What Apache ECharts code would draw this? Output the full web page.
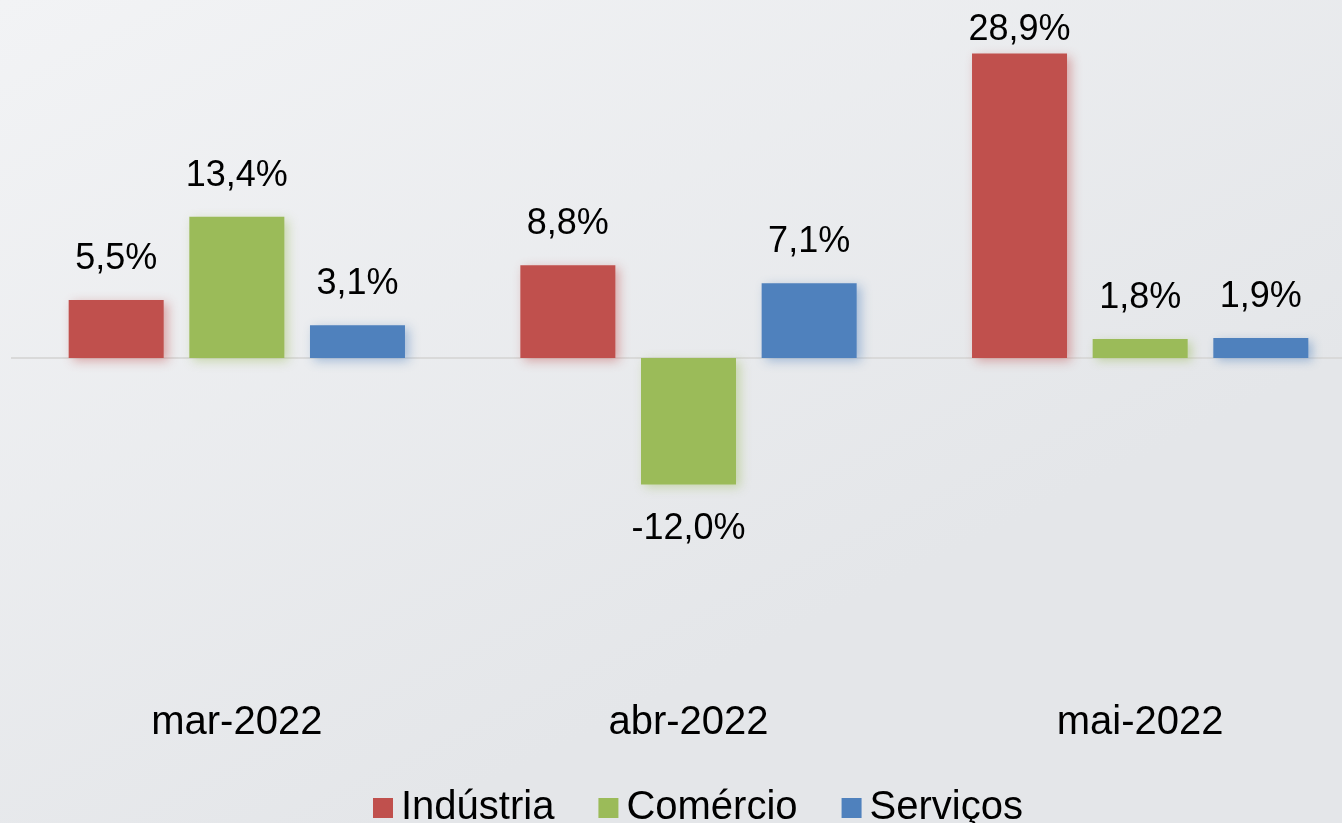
<!DOCTYPE html>
<html>
<head>
<meta charset="utf-8">
<script src="https://cdn.jsdelivr.net/npm/echarts@6/dist/echarts.min.js"></script>
<style>
  html, body { margin: 0; padding: 0; overflow: hidden; }
  /* the plot runs a little past the right edge of the picture, as in the source */
  #chart { width: 1366px; height: 823px; }
</style>
</head>
<body>
<div id="chart"></div>
<script>
  var months = ['mar-2022', 'abr-2022', 'mai-2022'];
  var seriesNames = ['Indústria', 'Comércio', 'Serviços'];
  var industria = [5.5, 8.8, 28.9];
  var comercio = [13.4, -12.0, 1.8];
  var servicos = [3.1, 7.1, 1.9];
  var colors = ['#C0504D', '#9BBB59', '#4F81BD'];
  var glows = ['rgba(192,80,77,0.45)', 'rgba(155,187,89,0.45)', 'rgba(79,129,189,0.45)'];

  var font = "'Liberation Sans', Arial, sans-serif";

  function fmt(v) {
    return v.toFixed(1).replace('.', ',') + '%';
  }

  function makeSeries(name, values, i) {
    var s = {
      name: name,
      type: 'bar',
      barWidth: 95,
      barGap: '27%',
      itemStyle: {
        color: colors[i],
        shadowColor: glows[i],
        shadowBlur: 10,
        shadowOffsetX: 4,
        shadowOffsetY: 3
      },
      label: {
        show: true,
        position: 'top',
        distance: 23,
        color: '#000',
        fontSize: 36,
        fontFamily: font,
        formatter: function (p) { return fmt(p.value); }
      },
      data: values.map(function (v) {
        // negative bars carry the label under them; the tallest one is squeezed under the top edge
        if (v < 0) return { value: v, label: { position: 'bottom', distance: 27 } };
        if (v > 25) return { value: v, label: { distance: 6 } };
        return v;
      })
    };
    if (i === 0) {
      s.markLine = {
        silent: true,
        symbol: 'none',
        label: { show: false },
        lineStyle: { color: '#d9d9d9', width: 2, type: 'solid' },
        data: [{ yAxis: 0 }],
        z: 1
      };
    }
    return s;
  }

  var chart = echarts.init(document.getElementById('chart'));
  var option = {
    animation: false,
    backgroundColor: new echarts.graphic.LinearGradient(0, 0, 0.3, 1, [
      { offset: 0, color: '#f2f3f5' },
      { offset: 1, color: '#e4e6e9' }
    ]),
    grid: { left: 11, top: 42, right: 0, height: 632 },
    legend: {
      left: 368,
      top: 783,
      itemWidth: 20,
      itemHeight: 20,
      itemGap: 44,
      icon: 'rect',
      textStyle: { fontSize: 40, fontFamily: font, color: '#000', padding: [0, 0, 0, 3] },
      data: seriesNames
    },
    xAxis: {
      type: 'category',
      data: months,
      axisLine: { show: false, onZero: false },
      axisTick: { show: false },
      axisLabel: { fontSize: 40, fontFamily: font, color: '#000', margin: 29 }
    },
    yAxis: {
      type: 'value',
      min: -30,
      max: 30,
      show: false,
      splitLine: { show: false }
    },
    series: [
      makeSeries(seriesNames[0], industria, 0),
      makeSeries(seriesNames[1], comercio, 1),
      makeSeries(seriesNames[2], servicos, 2)
    ]
  };
  chart.setOption(option);
</script>
</body>
</html>
